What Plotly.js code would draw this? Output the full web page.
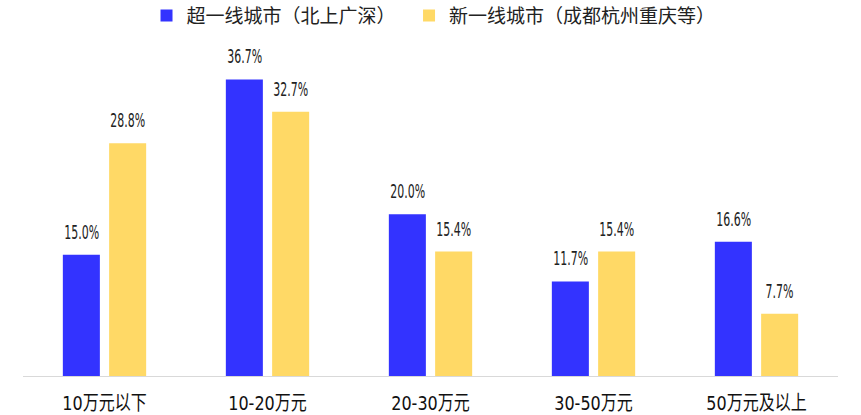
<!DOCTYPE html>
<html><head><meta charset="utf-8">
<script src="https://cdn.plot.ly/plotly-3.0.1.min.js"></script>
<style>html,body{margin:0;padding:0;background:#fff;}#chart{width:861px;height:415px;}</style>
</head><body><div id="chart"></div>
<script>
const categories = ["10万元以下", "10-20万元", "20-30万元", "30-50万元", "50万元及以上"];
const seriesNames = ["超一线城市（北上广深）", "新一线城市（成都杭州重庆等）"];
const tier1 = [15.0, 36.7, 20.0, 11.7, 16.6];
const newTier1 = [28.8, 32.7, 15.4, 15.4, 7.7];
const colors = ["#3333FF", "#FFD966"];

const numFont = "'DejaVu Sans', 'Noto Sans CJK SC', sans-serif";

const traces = [tier1, newTier1].map((vals, i) => ({
  type: 'bar', x: categories, y: vals,
  name: i === 0 ? seriesNames[i] + '\u00a0\u00a0' : seriesNames[i],
  marker: {color: colors[i]}, hoverinfo: 'none'
}));

const annotations = [];
[tier1, newTier1].forEach((vals, i) => {
  vals.forEach((v, j) => {
    annotations.push({
      x: categories[j], y: v, xref: 'x', yref: 'y',
      text: v.toFixed(1) + '%', showarrow: false,
      xshift: i === 0 ? -23 : 23, yanchor: 'bottom', yshift: 9,
      font: {family: numFont, size: 20, color: '#222'}
    });
  });
});

const layout = {
  width: 861, height: 415,
  margin: {l: 23, r: 23, t: 60, b: 39},
  paper_bgcolor: '#fff', plot_bgcolor: '#fff',
  barmode: 'group', bargap: 0.432, bargroupgap: 0.2,
  showlegend: true,
  legend: {orientation: 'h', x: 0.5035, xanchor: 'center', xref: 'container',
    y: 0.962, yanchor: 'middle', yref: 'container',
    font: {family: "'Noto Sans CJK SC', sans-serif", size: 19, color: '#222'},
    itemwidth: 30, tracegroupgap: 0},
  xaxis: {showline: true, linecolor: '#d9d9d9', linewidth: 1, ticks: '', showgrid: false,
    automargin: false,
    tickfont: {family: numFont, size: 20, color: '#111'}, ticklabelstandoff: 9},
  yaxis: {range: [0, 39.1], visible: false, showgrid: false, zeroline: false},
  annotations: annotations
};

function squeeze(sel, s) {
  document.querySelectorAll(sel).forEach(t => {
    const b = t.getBBox();
    const cx = b.x + b.width / 2;
    const prev = t.getAttribute('transform') || '';
    t.setAttribute('transform', prev + ` translate(${cx},0) scale(${s},1) translate(${-cx},0)`);
  });
}
Plotly.newPlot('chart', traces, layout, {displayModeBar: false, staticPlot: true}).then(() => {
  squeeze('.annotation-text', 0.55);
  squeeze('.xtick text', 0.8);
});
</script></body></html>
